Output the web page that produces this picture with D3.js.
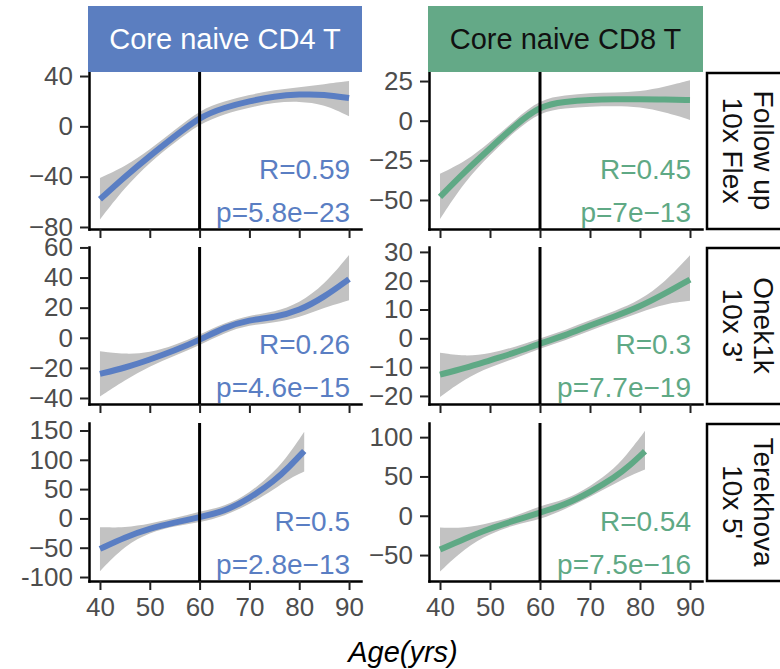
<!DOCTYPE html>
<html>
<head>
<meta charset="utf-8">
<script src="https://cdn.jsdelivr.net/npm/d3@7"></script>
<style>
  body { margin: 0; background: #fff; }
  svg { font-family: "Liberation Sans", Arial, sans-serif; }
</style>
</head>
<body>
<script>
// Age trends of core naive T cells per cohort (loess fit + 95% band)

const ages = [40, 45, 50, 55, 60, 65, 70, 75, 80, 85, 90];
const agesTerekhova = [40, 45, 50, 55, 60, 65, 70, 75, 78, 81];

const cellTypes = ["Core naive CD4 T", "Core naive CD8 T"];
const cohorts = [["Follow up", "10x Flex"], ["Onek1k", "10x 3'"], ["Terekhova", "10x 5'"]];

// Follow up 10x Flex
const fitCD4Follow = [-58, -40, -23.5, -8, 7.5, 15, 20, 24, 25.5, 25.5, 22.5];
const loCD4Follow  = [-74, -48.5, -28.5, -13, 2, 10, 15, 19, 20, 17.5, 8];
const hiCD4Follow  = [-41, -32, -18.5, -3, 13, 20, 25, 29, 31, 33.5, 36];
const fitCD8Follow = [-48, -32, -17.5, -3, 9.5, 12, 13.2, 13.5, 13.5, 13.3, 13];
const loCD8Follow  = [-62, -38, -21.5, -6.5, 5.5, 8, 8.9, 9.2, 8.8, 5.3, 0.5];
const hiCD8Follow  = [-33.5, -26, -13.5, 0.5, 13.5, 16, 17.5, 17.8, 18.2, 21.3, 25.5];

// Onek1k 10x 3'
const fitCD4Onek = [-24, -20, -14.5, -8.5, -1.5, 7, 12, 13.5, 18, 27, 39];
const loCD4Onek  = [-39, -28, -19, -12, -5, 3.5, 8.5, 10, 13.5, 20, 25];
const hiCD4Onek  = [-9, -11, -10, -5, 2, 10, 15, 17, 23, 35, 55];
const fitCD8Onek = [-12.6, -10.3, -7.6, -5, -1.8, 1, 4.5, 7.6, 11, 15.5, 20.4];
const loCD8Onek  = [-20.4, -14, -10, -7, -3.5, -0.8, 2.7, 5.8, 9, 12, 13];
const hiCD8Onek  = [-5, -6.3, -5.3, -3, 0, 2.8, 6.3, 9.5, 13.2, 19.5, 28.8];

// Terekhova 10x 5'
const fitCD4Terek = [-52, -32, -17, -7, 2, 12, 34, 64, 88, 115];
const loCD4Terek  = [-90, -46, -24, -13, -7, 4, 24, 50, 68, 80];
const hiCD4Terek  = [-15, -16, -9, 0, 12, 20, 43, 79, 110, 148];
const fitCD8Terek = [-43, -29, -16, -6, 4, 14, 30, 49, 64, 82];
const loCD8Terek  = [-71, -41, -23, -11, -5, 8, 24, 41, 51, 59];
const hiCD8Terek  = [-15, -16, -9, -1, 13, 20, 37, 60, 83, 108];

const rLabels = [["R=0.59", "R=0.45"], ["R=0.26", "R=0.3"], ["R=0.5", "R=0.54"]];
const pLabels = [["p=5.8e\u221223", "p=7e\u221213"], ["p=4.6e\u221215", "p=7.7e\u221219"], ["p=2.8e\u221213", "p=7.5e\u221216"]];

const xTicks = [40, 50, 60, 70, 80, 90];
const xDomain = [37.8, 92.4];
const yTicks = [
  [[-80, -40, 0, 40], [-50, -25, 0, 25]],
  [[-40, -20, 0, 20, 40, 60], [-20, -10, 0, 10, 20, 30]],
  [[-100, -50, 0, 50, 100, 150], [-50, 0, 50, 100]]
];
const yDomains = [
  [[-81.6, 43.2], [-68.3, 30.7]],
  [[-44, 60.3], [-22.8, 31.7]],
  [[-106.8, 162.8], [-83, 118]]
];

const series = [
  [[ages, fitCD4Follow, loCD4Follow, hiCD4Follow], [ages, fitCD8Follow, loCD8Follow, hiCD8Follow]],
  [[ages, fitCD4Onek, loCD4Onek, hiCD4Onek], [ages, fitCD8Onek, loCD8Onek, hiCD8Onek]],
  [[agesTerekhova, fitCD4Terek, loCD4Terek, hiCD4Terek], [agesTerekhova, fitCD8Terek, loCD8Terek, hiCD8Terek]]
];

// layout
const width = 780, height = 669;
const colX = [[89, 361], [429, 702]];
const rowY = [[72, 229], [247, 404], [423, 581]];
const lineColors = ["#5a7ec3", "#5fa985"];
const headerFill = ["#5b7ec0", "#64a987"];
const headerText = ["#ffffff", "#111111"];
const fontSize = 26;

const svg = d3.select("body")
  .append("svg")
  .attr("width", width)
  .attr("height", height);

const fmt = d => d === -100 ? "-100" : String(d).replace("-", "\u2212");

rowY.forEach((ry, r) => {
  colX.forEach((cx, c) => {
    const [xs, fit, lo, hi] = series[r][c];
    const rows = xs.map((a, i) => ({ age: a, fit: fit[i], lo: lo[i], hi: hi[i] }));

    const x = d3.scaleLinear().domain(xDomain).range(cx);
    const y = d3.scaleLinear().domain(yDomains[r][c]).range([ry[1], ry[0]]);

    const g = svg.append("g");

    // confidence band
    g.append("path")
      .datum(rows)
      .attr("fill", "#c2c2c2")
      .attr("d", d3.area()
        .x(d => x(d.age))
        .y0(d => y(d.lo))
        .y1(d => y(d.hi))
        .curve(d3.curveBasis));

    // fitted line
    g.append("path")
      .datum(rows)
      .attr("fill", "none")
      .attr("stroke", lineColors[c])
      .attr("stroke-width", 6)
      .attr("d", d3.line()
        .x(d => x(d.age))
        .y(d => y(d.fit))
        .curve(d3.curveBasis));

    // age 60 marker
    g.append("line")
      .attr("x1", x(60)).attr("x2", x(60))
      .attr("y1", ry[0]).attr("y2", ry[1])
      .attr("stroke", "#000")
      .attr("stroke-width", 3);

    // axes
    const ax = g.append("g")
      .attr("transform", `translate(${cx[0]},0)`)
      .call(d3.axisLeft(y).tickValues(yTicks[r][c]).tickFormat(fmt)
        .tickSize(9).tickSizeOuter(0).tickPadding(7));
    const bx = g.append("g")
      .attr("transform", `translate(0,${ry[1]})`)
      .call(d3.axisBottom(x).tickValues(xTicks)
        .tickFormat(r === 2 ? d3.format("d") : () => "")
        .tickSize(9).tickSizeOuter(0).tickPadding(8));
    [ax, bx].forEach(a => {
      a.select(".domain").attr("stroke", "#000").attr("stroke-width", 2.5).attr("stroke-linecap", "square");
      a.selectAll(".tick line").attr("stroke", "#222").attr("stroke-width", 2);
      a.selectAll(".tick text")
        .attr("fill", "#4d4d4d")
        .attr("font-size", fontSize)
        .attr("font-family", "Liberation Sans, Arial, sans-serif");
    });

    // correlation labels
    g.append("text")
      .attr("x", x(90) + 1).attr("y", ry[1] - 50)
      .attr("text-anchor", "end")
      .attr("fill", lineColors[c])
      .attr("font-size", 28)
      .text(rLabels[r][c]);
    g.append("text")
      .attr("x", x(90) + 1).attr("y", ry[1] - 7)
      .attr("text-anchor", "end")
      .attr("fill", lineColors[c])
      .attr("font-size", 28)
      .text(pLabels[r][c]);
  });

  // cohort strip on the right
  const sg = svg.append("g");
  sg.append("rect")
    .attr("x", 707).attr("y", ry[0] + 1)
    .attr("width", 82).attr("height", ry[1] - ry[0] - 1)
    .attr("fill", "#fff").attr("stroke", "#000").attr("stroke-width", 2.5);
  const cyMid = (ry[0] + ry[1]) / 2;
  cohorts[r].forEach((t, k) => {
    sg.append("text")
      .attr("transform", `translate(${k === 0 ? 754 : 723},${cyMid}) rotate(90)`)
      .attr("text-anchor", "middle")
      .attr("font-size", 28)
      .attr("fill", "#111")
      .text(t);
  });
});

// cell type headers
colX.forEach((cx, c) => {
  svg.append("rect")
    .attr("x", cx[0] - 1).attr("y", 6)
    .attr("width", cx[1] - cx[0] + 2).attr("height", rowY[0][0] - 6)
    .attr("fill", headerFill[c]);
  svg.append("text")
    .attr("x", (cx[0] + cx[1]) / 2).attr("y", 39)
    .attr("dy", "0.36em")
    .attr("text-anchor", "middle")
    .attr("font-size", 29)
    .attr("fill", headerText[c])
    .text(cellTypes[c]);
});

// x axis title
svg.append("text")
  .attr("x", 403).attr("y", 662)
  .attr("text-anchor", "middle")
  .attr("font-size", 29)
  .attr("font-style", "italic")
  .attr("fill", "#000")
  .text("Age(yrs)");
</script>
</body>
</html>
